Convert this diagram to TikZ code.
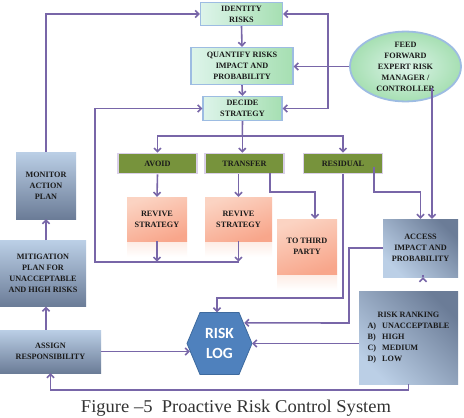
\documentclass[tikz,border=0pt]{standalone}
\usepackage{fontspec}
\setmainfont{Liberation Serif}
\newfontfamily\logfont{Carlito}
\usetikzlibrary{arrows.meta,shapes.geometric,calc,shadows}
\definecolor{lnc}{HTML}{7866A8}
\definecolor{gbord}{HTML}{9DBCE2}
\definecolor{glite}{HTML}{DDF4EA}
\definecolor{gdark}{HTML}{A6DFB2}
\definecolor{olive}{HTML}{77933C}
\definecolor{glow}{HTML}{D9CFE8}
\definecolor{slite}{HTML}{FBD3C2}
\definecolor{sdark}{HTML}{F8A68B}
\definecolor{blite}{HTML}{BBCFE6}
\definecolor{bdark}{HTML}{6B7C97}
\definecolor{logblue}{HTML}{4F81BD}
\definecolor{logbord}{HTML}{3E6A9E}
\definecolor{txt}{HTML}{1A1A1A}
\begin{document}
\begin{tikzpicture}[x=1pt,y=-1pt,
  box/.style={font=\fontsize{8.2}{11}\selectfont\bfseries, align=center, inner sep=1pt, text=txt},
  greenbox/.style={box, draw=gbord, line width=1.3pt, left color=glite, right color=gdark},
  olivebox/.style={box, fill=olive, draw=glow, line width=1.6pt, minimum width=79pt, minimum height=20pt},
  salmonbox/.style={box, top color=slite, bottom color=sdark, shading angle=20},
  slatebox/.style={box, top color=blite, bottom color=bdark},
  diagbox/.style={box, top color=bdark, bottom color=blite, shading angle=-45},
  refl/.style={top color=slite!45, bottom color=white, draw=none},
  arr/.style={draw=lnc, line width=1.6pt, -{Straight Barb[length=3.5pt,width=7pt]}},
  ln/.style={draw=lnc, line width=1.6pt}]
\useasboundingbox (0,0) rectangle (464,418);
\fill[white] (0,0) rectangle (464,418);

% reflections under salmon boxes
\fill[refl] (127,241) rectangle (187,257);
\fill[refl] (205,241) rectangle (272,257);
\fill[refl] (277,274) rectangle (337,290);

% nodes
\node[greenbox, minimum width=82pt, minimum height=23pt] (idr) at (241.5,14) {IDENTITY\\RISKS};
\node[greenbox, minimum width=102pt, minimum height=37pt] (quant) at (242,66) {QUANTIFY RISKS\\IMPACT AND\\PROBABILITY};
\node[greenbox, minimum width=79pt, minimum height=24pt] (decide) at (242.5,108.5) {DECIDE\\STRATEGY};
\node[greenbox, ellipse, draw=gbord, line width=1.8pt, inner color=glite, outer color=gdark, minimum width=111pt, minimum height=65pt, inner sep=0pt] (feed) at (405.5,66.5) {FEED\\FORWARD\\EXPERT RISK\\MANAGER /\\CONTROLLER};

\node[olivebox] (avoid) at (157.5,163.5) {AVOID};
\node[olivebox] (transfer) at (244.5,163.5) {TRANSFER};
\node[olivebox] (residual) at (343,163.5) {RESIDUAL};

\node[salmonbox, minimum width=60pt, minimum height=44pt] (rev1) at (157,219) {REVIVE\\STRATEGY};
\node[salmonbox, minimum width=67pt, minimum height=44pt] (rev2) at (238.5,219) {REVIVE\\STRATEGY};
\node[salmonbox, minimum width=60pt, minimum height=55pt] (third) at (307,246.5) {TO THIRD\\PARTY};

\node[slatebox, minimum width=60pt, minimum height=67pt] (monitor) at (46,185.5) {MONITOR\\ACTION\\PLAN};
\node[slatebox, minimum width=86pt, minimum height=66pt] (mitig) at (43,273.5) {MITIGATION\\PLAN FOR\\UNACCEPTABLE\\AND HIGH RISKS};
\node[slatebox, minimum width=101pt, minimum height=43pt] (assign) at (50.5,351.5) {ASSIGN\\RESPONSIBILITY};

\node[diagbox, minimum width=75pt, minimum height=58pt] (access) at (420.5,248) {ACCESS\\IMPACT AND\\PROBABILITY};
\node[diagbox, minimum width=99pt, minimum height=93pt] (ranking) at (408.5,337.5)
  {\begin{tabular}{@{}l@{\hspace{6pt}}l@{}}\multicolumn{2}{c}{RISK RANKING}\\A) & UNACCEPTABLE\\B) & HIGH\\C) & MEDIUM\\D) & LOW\end{tabular}};

% risk log hexagon
\fill[logblue, draw=logbord, line width=0.8pt] (187,343.5) -- (200,312.5) -- (239,312.5) -- (252,343.5) -- (239,374.5) -- (200,374.5) -- cycle;
\node[font=\logfont\bfseries\fontsize{15.5}{20}\selectfont, text=white, align=center, minimum width=65pt, minimum height=62pt, inner sep=0pt] (log) at (219.5,343.5) {RISK\\LOG};

% caption
\node[font=\fontsize{18}{21}\selectfont, text=black!80, anchor=base, xscale=1.03, transform shape] (cap) at (236,412) {Figure –5\ \ Proactive Risk Control System};

% connectors
\draw[arr] (monitor.north) |- (idr.west);
\draw[arr] (idr.south) -- (quant.north);
\draw[arr] (quant.south) -- (decide.north);
\draw[arr] (feed.west) -- (feed.west -| quant.east);
\coordinate (fb) at (feed.west -| 328,0);
\draw[arr] (fb) |- (idr.east);
\draw[arr] (fb) |- (decide.east);
\coordinate (fs) at ($(feed.center)+(26.5,21)$);
\draw[arr] (fs) -- (fs |- access.north);

\coordinate (split) at (242.3,135.7);
\draw[ln] (decide.south) -- (split);
\draw[arr] (split) -| (avoid.north);
\draw[arr] (split) -| (residual.north);
\draw[arr] (split) -- (split |- transfer.north);

\draw[arr] (avoid.south) -- (rev1.north);
\draw[arr] (rev2.north |- transfer.south) -- (rev2.north);
\coordinate (tp) at ($(third.north)+(8,0)$);
\draw[arr] (270,173) -- (270,191.7) -| (tp);

\coordinate (loopL) at (95,261.7);
\draw[arr] (rev1.south) -- (rev1.south |- loopL);
\draw[arr] (rev2.south) -- (rev2.south |- loopL);
\draw[arr] (rev2.south |- loopL) -- (loopL) |- (decide.west);

\coordinate (logT) at ($(log.north)+(-2.5,0)$);
\coordinate (logUR) at ($(log.north east)+(-8,10.5)$);
\coordinate (logLL) at ($(log.west)+(3,7.5)$);
\draw[arr] (residual.south) -- (343,298) -| (logT);
\draw[arr] ($(residual.east)+(-9.5,3)$) |- (405,191.7) -| (access.north);
\draw[arr] (access.west) -| (349,323) -- (logUR);
\draw[arr] ($(access.south)+(2.5,0)$) -- ($(access.south)+(2.5,0)$ |- ranking.north);
\draw[arr] (ranking.west |- log.east) -- (log.east);
\draw[arr] (ranking.south) -- (408.5,390) -| (assign.south);
\draw[arr] (assign.east) -- (assign.east -| logLL);
\draw[arr] (assign.north -| monitor.south) -- (mitig.south -| monitor.south);
\draw[arr] (mitig.north -| monitor.south) -- (monitor.south);
\end{tikzpicture}
\end{document}
